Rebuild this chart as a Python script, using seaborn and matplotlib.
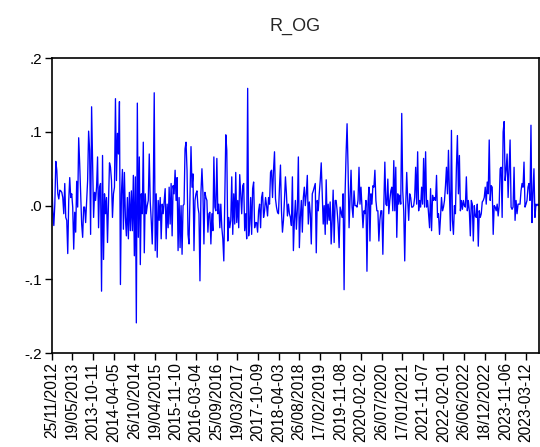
# r_og.py

# Bibliotecas
import numpy as np
import pandas as pd
import matplotlib
matplotlib.use('Agg')
import matplotlib.pyplot as plt
import seaborn as sns

# Configurações visuais
sns.set_style('ticks')
plt.rcParams['font.family'] = ['Liberation Sans', 'DejaVu Sans']

# Valores (retornos R_OG), em blocos de período
r_og_2012_2014 = [
    0.036, -0.007, -0.027, 0.002, 0.060, 0.048, 0.016, 0.009, 0.021, 0.020,
    0.018, 0.011, -0.011, 0.030, -0.016, -0.020, -0.065, 0.007, 0.038, 0.011,
    0.016, -0.002, -0.059, -0.009, -0.036, 0.033, -0.002, 0.092, 0.057, 0.016,
    -0.025, -0.043, -0.002, -0.002, -0.023, 0.007, 0.034, 0.101, 0.075, -0.039,
    0.134, 0.061, -0.016, 0.018, 0.007, 0.025, 0.066, -0.030, 0.025, 0.030,
    -0.116, 0.068, -0.073, 0.016, -0.011, 0.011, -0.050, 0.002, 0.058, 0.052,
    0.034, -0.016, 0.016, 0.025, 0.145, 0.034, 0.098, 0.070, 0.141, -0.107,
    0.016, 0.049, -0.032, 0.045, -0.016, -0.041, 0.011, -0.045, 0.018, -0.034,
]
r_og_2014_2016 = [
    0.020, -0.034, 0.041, -0.068, 0.039, -0.159, 0.139, -0.043, 0.066, -0.080,
    0.016, -0.011, 0.086, -0.064, 0.016, -0.011, 0.000, 0.007, 0.070, 0.005,
    -0.020, -0.052, 0.009, 0.153, -0.061, 0.016, -0.070, 0.007, -0.020, 0.011,
    -0.045, 0.002, -0.011, 0.007, 0.023, -0.045, 0.002, -0.030, 0.025, -0.025,
    0.030, -0.041, 0.027, 0.016, 0.048, 0.007, 0.038, -0.061, 0.011, -0.057,
    0.000, -0.066, 0.000, 0.002, 0.077, 0.086, 0.048, -0.039, -0.052, 0.016,
    0.080, 0.025, 0.043, -0.061, 0.007, 0.016, 0.020, -0.002, -0.011, -0.102,
    0.018, 0.050, 0.018, -0.052, 0.018, 0.011, 0.007, -0.036, -0.011, -0.009,
    -0.052, -0.011, -0.034, 0.066, -0.002, -0.007,
]
r_og_2016_2018 = [
    0.064, -0.011, 0.002, -0.030, 0.002, -0.030, -0.045, -0.075, 0.007, 0.096,
    0.075, -0.048, -0.016, -0.030, -0.020, 0.039, -0.039, 0.016, -0.025, 0.045,
    -0.023, 0.007, -0.030, 0.042, 0.016, -0.011, 0.027, 0.030, -0.034, -0.011,
    -0.045, 0.159, -0.041, -0.025, 0.011, -0.039, 0.023, 0.032, -0.030, -0.023,
    -0.023, -0.036, -0.007, 0.002, -0.030, 0.011, 0.018, -0.016, -0.007, 0.011,
    0.000, -0.014, 0.011, 0.002, 0.045, 0.048, 0.011, 0.048, 0.073, 0.009,
    -0.002, -0.009, -0.011, 0.025, 0.055, -0.007, -0.036, -0.020, 0.007, 0.039,
    0.016, -0.014, 0.002, -0.011, -0.016, -0.027, 0.039, -0.061, -0.020, 0.007,
    -0.032, -0.005, 0.066, -0.057, -0.016, 0.007,
]
r_og_2018_2020 = [
    -0.036, 0.011, 0.025, 0.000, 0.016, 0.041, -0.025, 0.005, -0.011, -0.052,
    0.016, 0.020, 0.025, 0.030, -0.064, 0.007, -0.007, 0.016, 0.034, 0.058,
    0.016, -0.025, 0.000, -0.039, 0.035, -0.025, 0.002, -0.020, 0.005, -0.052,
    -0.020, 0.021, -0.050, 0.007, 0.007, -0.007, -0.025, -0.057, -0.002, -0.009,
    -0.016, 0.016, -0.114, 0.016, 0.070, 0.111, 0.052, -0.030, 0.007, 0.048,
    -0.002, -0.016, 0.020, 0.000, 0.000, -0.002, 0.007, 0.052, 0.002, 0.025,
    -0.002, -0.030, -0.007, -0.011, 0.007, -0.089, 0.002, 0.025, -0.048, 0.016,
    0.002, 0.027, 0.025, 0.048, 0.007, -0.007, -0.007, -0.048, -0.020, -0.007,
    -0.007, -0.066, 0.002, 0.059, 0.002,
]
r_og_2020_2022 = [
    0.000, 0.036, -0.011, 0.007, 0.020, 0.025, -0.007, 0.061, -0.007, 0.052,
    -0.043, 0.016, 0.002, 0.014, 0.002, 0.125, 0.020, -0.007, -0.075, 0.000,
    0.045, 0.007, -0.020, 0.016, 0.011, -0.002, -0.002, 0.000, 0.011, 0.052,
    0.002, 0.073, -0.007, 0.007, -0.002, 0.025, 0.002, 0.064, -0.002, 0.073,
    -0.002, 0.007, -0.011, -0.030, 0.023, -0.034, 0.014, 0.007, 0.011, 0.007,
    0.041, -0.016, -0.011, -0.039, -0.016, 0.011, -0.007, -0.002, 0.007, 0.027,
    0.052, 0.016, 0.075, 0.016, -0.034, 0.102, -0.020, -0.039, 0.000, -0.011,
    0.052, 0.095, 0.016, 0.068, -0.007, 0.007, -0.005, 0.007,
]
r_og_2022_2024 = [
    0.000, -0.002, 0.039, -0.007, 0.007, -0.007, -0.041, 0.007, 0.002, -0.048,
    0.000, -0.014, -0.016, 0.002, -0.055, -0.007, -0.016, -0.011, 0.005, 0.007,
    0.011, 0.025, 0.002, 0.032, 0.016, 0.089, 0.007, 0.027, 0.025, -0.039,
    0.000, -0.002, -0.007, 0.002, -0.014, 0.000, 0.050, 0.052, -0.016, 0.100,
    0.114, 0.034, 0.048, 0.070, 0.011, 0.048, 0.089, -0.002, -0.005, -0.002,
    0.052, -0.020, 0.007, -0.011, 0.002, 0.002, 0.002, 0.020, 0.030, 0.025,
    0.059, -0.002, 0.002, 0.007, 0.025, 0.030, 0.007, 0.109, -0.023, 0.016,
    0.050, -0.016, 0.002, 0.000, 0.002, 0.000,
]

# Rótulos do eixo x (datas como aparecem no gráfico)
rotulos = [
    '25/11/2012', '19/05/2013', '2013-10-11', '2014-04-05', '26/10/2014',
    '19/04/2015', '2015-11-10', '2016-03-04', '25/09/2016', '19/03/2017',
    '2017-10-09', '2018-04-03', '26/08/2018', '17/02/2019', '2019-11-08',
    '2020-02-02', '26/07/2020', '17/01/2021', '2021-11-07', '2022-02-01',
    '26/06/2022', '18/12/2022', '2023-11-06', '2023-03-12',
]

# Juntando a série
r_og = (r_og_2012_2014 + r_og_2014_2016 + r_og_2016_2018
        + r_og_2018_2020 + r_og_2020_2022 + r_og_2022_2024)
dados = pd.DataFrame({'obs': np.arange(len(r_og)), 'r_og': r_og})

# Gráfico
fig = plt.figure(figsize=(5.4, 4.47), dpi=100)
ax = fig.add_axes([0.096, 0.21, 0.902, 0.66])
sns.lineplot(data=dados, x='obs', y='r_og', color='#0000FF', linewidth=0.95, ax=ax)

ax.set_xlim(0, len(r_og) - 1)
ax.set_ylim(-0.2, 0.2)
ax.set_yticks([-0.2, -0.1, 0.0, 0.1, 0.2])
ax.set_yticklabels(['-.2', '-.1', '.0', '.1', '.2'])

# um rótulo a cada ~20,7 observações
passo = (len(r_og) - 1) * 20.65 / 488
ax.set_xticks(np.arange(len(rotulos)) * passo)
ax.set_xticklabels(rotulos, rotation=90)

ax.tick_params(direction='out', length=5, width=1, colors='black')
ax.tick_params(axis='x', labelsize=11.2, pad=1.5)
ax.tick_params(axis='y', labelsize=11, pad=2)
ax.set_xlabel('')
ax.set_ylabel('')
ax.set_title('R_OG', fontsize=13, pad=20)
for lado in ax.spines.values():
    lado.set_color('black')
    lado.set_linewidth(1.2)

fig.savefig('out.png', dpi=100)
plt.close()
